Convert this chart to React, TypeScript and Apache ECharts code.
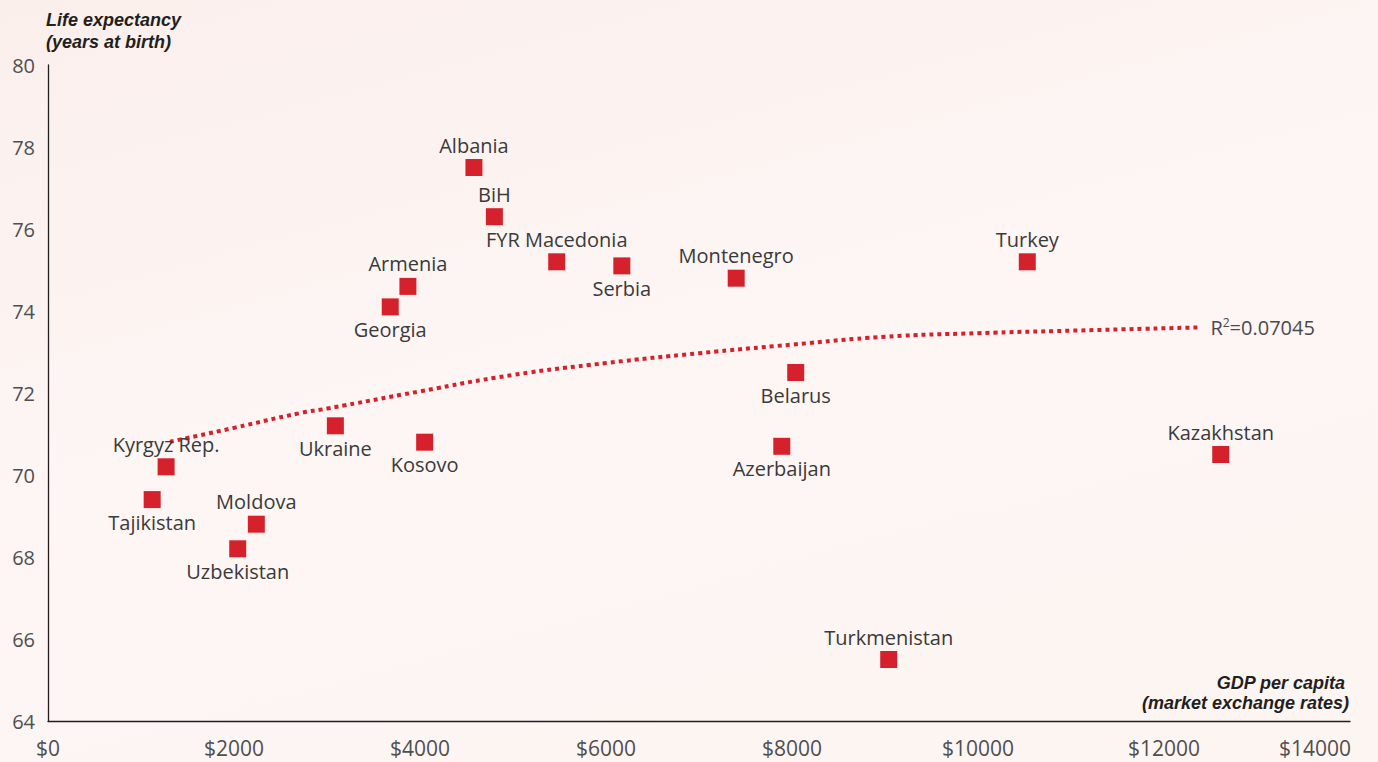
import React, { useEffect, useRef } from "react";
import * as echarts from "echarts";

const countries = ["Albania", "BiH", "FYR Macedonia", "Serbia", "Montenegro", "Turkey", "Armenia", "Georgia", "Belarus", "Azerbaijan", "Kazakhstan", "Ukraine", "Kosovo", "Kyrgyz Rep.", "Tajikistan", "Moldova", "Uzbekistan", "Turkmenistan"];
const gdpPerCapita = [4580, 4800, 5470, 6170, 7400, 10530, 3870, 3680, 8040, 7890, 12610, 3090, 4050, 1270, 1120, 2240, 2040, 9040];
const lifeExpectancy = [77.5, 76.3, 75.2, 75.1, 74.8, 75.2, 74.6, 74.1, 72.5, 70.7, 70.5, 71.2, 70.8, 70.2, 69.4, 68.8, 68.2, 65.5];
const labelSide = ["top", "top", "top", "bottom", "top", "top", "top", "bottom", "bottom", "bottom", "top", "bottom", "bottom", "top", "bottom", "top", "bottom", "top"];

const trendX = [1312, 2000, 2710, 3000, 4000, 5000, 6000, 7000, 8000, 9000, 10000, 11000, 12370];
const trendY = [70.81, 71.15, 71.51, 71.62, 72.04, 72.44, 72.73, 72.97, 73.18, 73.37, 73.46, 73.52, 73.6];
const rSquared = "0.07045";

const xTicks = { min: 0, max: 14000, interval: 2000 };
const yTicks = { min: 64, max: 80, interval: 2 };

const yTitle = ["Life expectancy", "(years at birth)"];
const xTitle = ["GDP per capita", "(market exchange rates)"];

const FONT = "'Open Sans', 'Noto Sans', sans-serif";
const TITLE_FONT = "'Liberation Sans', Arial, sans-serif";
const RED = "#d5212b";

export default function App() {
  const ref = useRef<HTMLDivElement>(null);
  useEffect(() => {
    document.body.style.margin = "0";
    const chart = echarts.init(ref.current!, null, { renderer: "svg" });
    const scatterData = countries.map((c, i) => ({
      name: c,
      value: [gdpPerCapita[i], lifeExpectancy[i]],
      label: { position: labelSide[i] },
    }));
    const titleFont = "italic bold 18px " + TITLE_FONT;
    chart.setOption({
      animation: false,
      backgroundColor: "transparent",
      textStyle: { fontFamily: FONT },
      grid: { left: 48, right: 28, top: 65, bottom: 41 },
      xAxis: {
        type: "value",
        min: xTicks.min,
        max: xTicks.max,
        interval: xTicks.interval,
        splitLine: { show: false },
        axisTick: { show: false },
        axisLine: { lineStyle: { color: "#231f20", width: 1.3 } },
        axisLabel: {
          margin: 16,
          fontSize: 21,
          color: "#4f4f4f",
          fontFamily: FONT,
          formatter: (v: number) => (v === xTicks.max ? "{last|$" + v + "}" : "$" + v),
          rich: { last: { fontSize: 21, color: "#4f4f4f", fontFamily: FONT, padding: [0, 70, 0, 0] } },
        },
      },
      yAxis: {
        type: "value",
        min: yTicks.min,
        max: yTicks.max,
        interval: yTicks.interval,
        splitLine: { show: false },
        axisTick: { show: false },
        axisLine: { show: true, lineStyle: { color: "#231f20", width: 1.3 } },
        axisLabel: { margin: 13, fontSize: 20, color: "#4f4f4f", fontFamily: FONT },
      },
      series: [
        {
          type: "line",
          data: trendX.map((x, i) => [x, trendY[i]]),
          smooth: true,
          symbol: "none",
          lineStyle: { color: RED, width: 4, type: [4, 4], cap: "butt" },
          endLabel: {
            show: true,
            distance: 12,
            formatter: "{r|R}{s|2}{r|=" + rSquared + "}",
            rich: {
              r: { fontSize: 20, color: "#4a4a4a", fontFamily: FONT },
              s: { fontSize: 12, color: "#4a4a4a", fontFamily: FONT, padding: [0, 0, 10, 0] },
            },
          },
          z: 1,
        },
        {
          type: "scatter",
          symbol: "rect",
          symbolSize: 17,
          itemStyle: { color: RED, opacity: 1 },
          data: scatterData,
          label: {
            show: true,
            formatter: "{b}",
            distance: 4,
            fontSize: 20,
            color: "#3a3a3a",
            fontFamily: FONT,
          },
          z: 3,
        },
      ],
      graphic: [
        {
          type: "text",
          x: 46,
          y: 20,
          style: { text: yTitle[0], font: titleFont, fill: "#231f20", align: "left", verticalAlign: "middle" },
        },
        {
          type: "text",
          x: 46,
          y: 42,
          style: { text: yTitle[1], font: titleFont, fill: "#231f20", align: "left", verticalAlign: "middle" },
        },
        {
          type: "text",
          x: 1345,
          y: 683,
          style: { text: xTitle[0], font: titleFont, fill: "#231f20", align: "right", verticalAlign: "middle" },
        },
        {
          type: "text",
          x: 1349,
          y: 703,
          style: { text: xTitle[1], font: titleFont, fill: "#231f20", align: "right", verticalAlign: "middle" },
        },
      ],
    });
    return () => chart.dispose();
  }, []);
  return (
    <div
      ref={ref}
      style={{
        width: 1378,
        height: 762,
        background: "linear-gradient(165deg, #fbefec 0%, #fdf6f4 45%, #fdf5f2 100%)",
      }}
    />
  );
}
